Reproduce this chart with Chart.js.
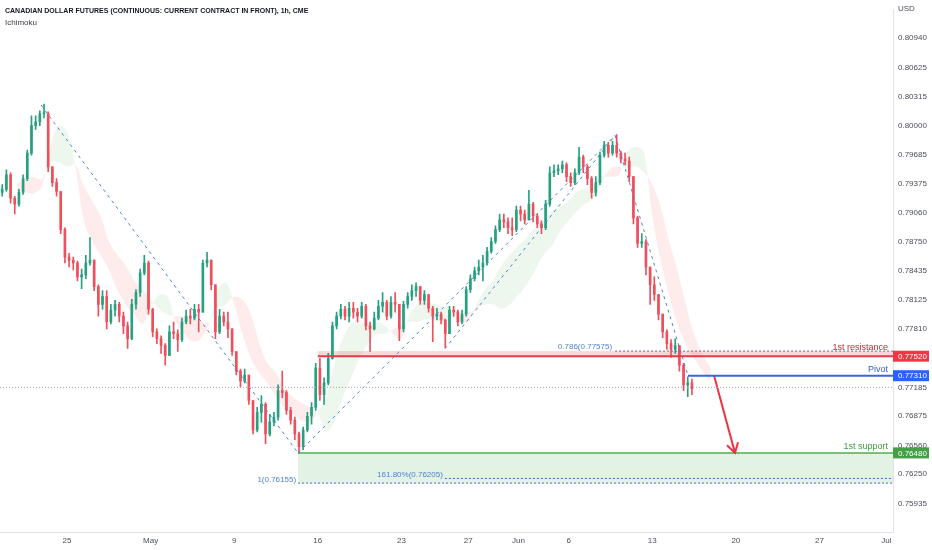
<!DOCTYPE html>
<html>
<head>
<meta charset="utf-8">
<style>
  html, body { margin: 0; padding: 0; background: #ffffff; }
  #wrap { width: 932px; height: 550px; }
</style>
<script src="https://cdn.jsdelivr.net/npm/chart.js@4.4.1/dist/chart.umd.min.js"></script>
</head>
<body>
<div id="wrap"><canvas id="chart" width="932" height="550"></canvas></div>
<script>
// time axis counts trading sessions from Mon 25 Apr (weekends removed, like the source chart)
const firstSession = -4;
const barsPerSession = 4;

const opens = [
  0.79282, 0.79314, 0.79472, 0.79219, 0.79155, 0.79282, 0.79430, 0.79704, 0.80000, 0.80042,
  0.80127, 0.80127, 0.79556, 0.79387, 0.79292, 0.78881, 0.78585, 0.78553, 0.78522, 0.78374,
  0.78395, 0.78522, 0.78553, 0.78268, 0.78078, 0.78162, 0.77888, 0.78015, 0.78078, 0.77951,
  0.77846, 0.77708, 0.78078, 0.78205, 0.78416, 0.78522, 0.78025, 0.77782, 0.77708, 0.77634,
  0.77529, 0.77782, 0.77761, 0.77698, 0.77888, 0.77951, 0.77930, 0.78025, 0.77994, 0.78522,
  0.78553, 0.78289, 0.77782, 0.77951, 0.77888, 0.77814, 0.77571, 0.77360, 0.77254, 0.77318,
  0.77043, 0.76726, 0.76916, 0.77001, 0.76684, 0.76811, 0.76864, 0.77149, 0.77128, 0.76938,
  0.76832, 0.76684, 0.76547, 0.76726, 0.76874, 0.76969, 0.77392, 0.77107, 0.77233, 0.77497,
  0.77846, 0.77951, 0.78025, 0.77951, 0.78036, 0.77994, 0.77951, 0.78057, 0.77846, 0.77814,
  0.77930, 0.78057, 0.78099, 0.77951, 0.78099, 0.78078, 0.77814, 0.78078, 0.78162, 0.78226,
  0.78268, 0.78120, 0.78184, 0.78036, 0.77951, 0.77972, 0.77909, 0.77761, 0.78015, 0.77994,
  0.77888, 0.77972, 0.78236, 0.78353, 0.78437, 0.78479, 0.78522, 0.78648, 0.78754, 0.78881,
  0.78986, 0.78965, 0.78902, 0.78881, 0.79092, 0.79050, 0.78986, 0.79155, 0.79028, 0.78944,
  0.78902, 0.79155, 0.79493, 0.79514, 0.79535, 0.79578, 0.79451, 0.79387, 0.79493, 0.79662,
  0.79556, 0.79430, 0.79282, 0.79387, 0.79683, 0.79789, 0.79704, 0.79789, 0.79704, 0.79641,
  0.79620, 0.79451, 0.79007, 0.78733, 0.78754, 0.78479, 0.78289, 0.78184, 0.77972, 0.77782,
  0.77656, 0.77592, 0.77634, 0.77423, 0.77212, 0.77233
];
const highs = [
  0.79367, 0.79525, 0.79493, 0.79240, 0.79314, 0.79472, 0.79736, 0.80106, 0.80106, 0.80158,
  0.80232, 0.80148, 0.79556, 0.79430, 0.79292, 0.78902, 0.78627, 0.78585, 0.78543, 0.78458,
  0.78606, 0.78796, 0.78553, 0.78289, 0.78226, 0.78226, 0.78078, 0.78120, 0.78099, 0.77994,
  0.77888, 0.78131, 0.78236, 0.78458, 0.78606, 0.78543, 0.78036, 0.77814, 0.77740, 0.77656,
  0.77846, 0.77888, 0.77803, 0.77930, 0.78015, 0.78025, 0.78078, 0.78078, 0.78553, 0.78638,
  0.78553, 0.78289, 0.78025, 0.77994, 0.77994, 0.77814, 0.77571, 0.77381, 0.77381, 0.77318,
  0.77043, 0.76969, 0.77096, 0.77022, 0.76895, 0.76916, 0.77212, 0.77360, 0.77149, 0.76969,
  0.76864, 0.76705, 0.76758, 0.76916, 0.77022, 0.77444, 0.77497, 0.77286, 0.77550, 0.77888,
  0.77994, 0.78078, 0.78057, 0.78099, 0.78099, 0.78036, 0.78099, 0.78078, 0.77888, 0.77994,
  0.78120, 0.78205, 0.78120, 0.78162, 0.78205, 0.78078, 0.78110, 0.78205, 0.78289, 0.78310,
  0.78268, 0.78226, 0.78184, 0.78057, 0.78036, 0.77994, 0.77920, 0.78057, 0.78057, 0.78015,
  0.78015, 0.78268, 0.78395, 0.78479, 0.78553, 0.78606, 0.78691, 0.78796, 0.78923, 0.79050,
  0.79050, 0.79007, 0.79007, 0.79134, 0.79134, 0.79092, 0.79303, 0.79176, 0.79050, 0.78976,
  0.79197, 0.79556, 0.79578, 0.79578, 0.79620, 0.79599, 0.79493, 0.79535, 0.79768, 0.79683,
  0.79578, 0.79451, 0.79451, 0.79715, 0.79831, 0.79820, 0.79831, 0.79905, 0.79725, 0.79704,
  0.79662, 0.79451, 0.79028, 0.78838, 0.78775, 0.78479, 0.78374, 0.78184, 0.77972, 0.77803,
  0.77698, 0.77708, 0.77634, 0.77444, 0.77297, 0.77275
];
const lows = [
  0.79240, 0.79292, 0.79166, 0.79050, 0.79134, 0.79261, 0.79409, 0.79683, 0.79958, 0.80000,
  0.80084, 0.79504, 0.79345, 0.79240, 0.78838, 0.78522, 0.78479, 0.78448, 0.78331, 0.78247,
  0.78353, 0.78500, 0.78226, 0.77951, 0.78025, 0.77814, 0.77867, 0.77951, 0.77888, 0.77761,
  0.77603, 0.77698, 0.78025, 0.78162, 0.78395, 0.77972, 0.77730, 0.77656, 0.77550, 0.77423,
  0.77529, 0.77708, 0.77571, 0.77677, 0.77867, 0.77867, 0.77909, 0.77782, 0.77994, 0.78479,
  0.78236, 0.77708, 0.77761, 0.77846, 0.77719, 0.77529, 0.77318, 0.77191, 0.77233, 0.77001,
  0.76684, 0.76705, 0.76811, 0.76579, 0.76663, 0.76769, 0.76832, 0.77075, 0.76895, 0.76790,
  0.76621, 0.76473, 0.76515, 0.76705, 0.76790, 0.76938, 0.77043, 0.77001, 0.77212, 0.77487,
  0.77814, 0.77920, 0.77909, 0.77888, 0.77930, 0.77888, 0.77930, 0.77803, 0.77571, 0.77803,
  0.77909, 0.77994, 0.77909, 0.77930, 0.77994, 0.77687, 0.77782, 0.78036, 0.78120, 0.78162,
  0.78078, 0.78078, 0.77994, 0.77677, 0.77909, 0.77867, 0.77613, 0.77761, 0.77951, 0.77846,
  0.77867, 0.77951, 0.78205, 0.78331, 0.78395, 0.78331, 0.78500, 0.78627, 0.78733, 0.78860,
  0.78902, 0.78838, 0.78817, 0.78860, 0.78976, 0.78944, 0.78986, 0.78965, 0.78902, 0.78838,
  0.78881, 0.79134, 0.79451, 0.79472, 0.79493, 0.79398, 0.79345, 0.79366, 0.79472, 0.79493,
  0.79366, 0.79219, 0.79240, 0.79366, 0.79662, 0.79662, 0.79683, 0.79662, 0.79599, 0.79578,
  0.79398, 0.78944, 0.78691, 0.78691, 0.78395, 0.78078, 0.78120, 0.77909, 0.77719, 0.77592,
  0.77508, 0.77550, 0.77360, 0.77149, 0.77085, 0.77107
];
const closes = [
  0.79314, 0.79472, 0.79219, 0.79155, 0.79282, 0.79430, 0.79704, 0.80000, 0.80042, 0.80127,
  0.80127, 0.79556, 0.79387, 0.79292, 0.78881, 0.78585, 0.78553, 0.78522, 0.78374, 0.78395,
  0.78522, 0.78553, 0.78268, 0.78078, 0.78162, 0.77888, 0.78015, 0.78078, 0.77951, 0.77846,
  0.77708, 0.78078, 0.78205, 0.78416, 0.78522, 0.78025, 0.77782, 0.77708, 0.77634, 0.77529,
  0.77782, 0.77761, 0.77698, 0.77888, 0.77951, 0.77930, 0.78025, 0.77994, 0.78522, 0.78553,
  0.78289, 0.77782, 0.77951, 0.77888, 0.77814, 0.77571, 0.77360, 0.77254, 0.77318, 0.77043,
  0.76726, 0.76916, 0.77001, 0.76684, 0.76811, 0.76864, 0.77149, 0.77128, 0.76938, 0.76832,
  0.76684, 0.76547, 0.76726, 0.76874, 0.76969, 0.77392, 0.77107, 0.77233, 0.77497, 0.77846,
  0.77951, 0.78025, 0.77951, 0.78036, 0.77994, 0.77951, 0.78057, 0.77846, 0.77814, 0.77930,
  0.78057, 0.78099, 0.77951, 0.78099, 0.78078, 0.77814, 0.78078, 0.78162, 0.78226, 0.78268,
  0.78120, 0.78184, 0.78036, 0.77951, 0.77972, 0.77909, 0.77761, 0.78015, 0.77994, 0.77888,
  0.77972, 0.78236, 0.78353, 0.78437, 0.78479, 0.78522, 0.78648, 0.78754, 0.78881, 0.78986,
  0.78965, 0.78902, 0.78881, 0.79092, 0.79050, 0.78986, 0.79155, 0.79028, 0.78944, 0.78902,
  0.79155, 0.79493, 0.79514, 0.79535, 0.79578, 0.79451, 0.79387, 0.79493, 0.79662, 0.79556,
  0.79430, 0.79282, 0.79387, 0.79683, 0.79789, 0.79704, 0.79789, 0.79704, 0.79641, 0.79620,
  0.79451, 0.79007, 0.78733, 0.78754, 0.78479, 0.78289, 0.78184, 0.77972, 0.77782, 0.77656,
  0.77592, 0.77634, 0.77423, 0.77212, 0.77233, 0.77170
];

// Ichimoku cloud, sampled every half session (already shifted forward)
const cloudStart = -3;
const cloudStep = 0.5;
const spanA = [
  0.7929, 0.7929, 0.7927, 0.7935, 0.7977, 0.8000, 0.7993, 0.7956, 0.7898, 0.7876,
  0.7861, 0.7845, 0.7824, 0.7808, 0.7797, 0.7787, 0.7803, 0.7818, 0.7816, 0.7789,
  0.7776, 0.7768, 0.7771, 0.7787, 0.7824, 0.7831, 0.7808, 0.7776, 0.7750, 0.7734,
  0.7723, 0.7708, 0.7697, 0.7690, 0.7683, 0.7681, 0.7692, 0.7708, 0.7744, 0.7771,
  0.7787, 0.7789, 0.7787, 0.7789, 0.7785, 0.7776, 0.7771, 0.7797, 0.7808, 0.7810,
  0.7808, 0.7805, 0.7799, 0.7789, 0.7789, 0.7808, 0.7824, 0.7834, 0.7850, 0.7861,
  0.7871, 0.7880, 0.7890, 0.7898, 0.7908, 0.7913, 0.7919, 0.7929, 0.7932, 0.7937,
  0.7945, 0.7945, 0.7947, 0.7972, 0.7977, 0.7972, 0.7903, 0.7855, 0.7818, 0.7787,
  0.7766, 0.7750, 0.7736, 0.7725
];
const spanB = [
  0.7937, 0.7943, 0.7945, 0.7943, 0.7961, 0.7961, 0.7956, 0.7958, 0.7935, 0.7919,
  0.7903, 0.7876, 0.7861, 0.7850, 0.7834, 0.7824, 0.7813, 0.7803, 0.7797, 0.7795,
  0.7795, 0.7792, 0.7789, 0.7789, 0.7803, 0.7808, 0.7816, 0.7813, 0.7797, 0.7766,
  0.7744, 0.7734, 0.7718, 0.7708, 0.7702, 0.7697, 0.7690, 0.7671, 0.7681, 0.7708,
  0.7729, 0.7750, 0.7766, 0.7776, 0.7776, 0.7781, 0.7785, 0.7789, 0.7789, 0.7792,
  0.7792, 0.7789, 0.7792, 0.7795, 0.7799, 0.7803, 0.7808, 0.7808, 0.7803, 0.7808,
  0.7818, 0.7829, 0.7845, 0.7861, 0.7871, 0.7887, 0.7898, 0.7908, 0.7916, 0.7922,
  0.7940, 0.7954, 0.7956, 0.7954, 0.7956, 0.7950, 0.7937, 0.7913, 0.7876, 0.7845,
  0.7808, 0.7776, 0.7755, 0.7739
];

const priceTicks = [0.80940, 0.80625, 0.80315, 0.80000, 0.79685, 0.79375, 0.79060, 0.78750,
  0.78435, 0.78125, 0.77810, 0.77185, 0.76875, 0.76560, 0.76250, 0.75935];
const dayTicks = [0, 5, 10, 15, 20, 24, 27, 30, 35, 40, 45, 49];
const dayLabels = ['25', 'May', '9', '16', '23', '27', 'Jun', '6', '13', '20', '27', 'Jul'];

// levels drawn on the chart
const resistance = 0.77520;
const fib786 = 0.77575;
const pivot = 0.77310;
const support = 0.76480;
const fibOne = 0.76155;
const fibExt = 0.76205;
const lastPrice = 0.77185;

// drawing anchors [session, price]
const swingHigh = [-1.55, 0.80222];
const swingLow = [13.82, 0.76480];
const retest = [22.6, 0.77600];
const swingTop = [32.78, 0.79894];
const pivotStart = 37.14;
const arrowFrom = [38.7, 0.77310];
const arrowTo = [39.95, 0.76480];

const timeMin = -4.007, timeMax = 49.40;
const priceMin = 0.75629, priceMax = 0.81246;

const upColor = '#26a17f';
const downColor = '#ef4f5c';
const fibBlue = '#4f7fd0';
const font = '"Liberation Sans", Arial, sans-serif';

const sessionOf = i => firstSession + (i + 0.5) / barsPerSession;
const barColors = closes.map((c, i) => (c >= opens[i] ? upColor : downColor));

function segment(label, a, b, color, width, dash) {
  return {
    type: 'line', label,
    data: [{ x: a[0], y: a[1] }, { x: b[0], y: b[1] }],
    borderColor: color, borderWidth: width, borderDash: dash || [],
    pointRadius: 0, fill: false, order: 0
  };
}
const level = (label, price, from, color, width, dash) =>
  segment(label, [from, price], [timeMax, price], color, width, dash);

const datasets = [
  {
    type: 'line', label: 'Senkou A',
    data: spanA.map((v, k) => ({ x: cloudStart + k * cloudStep, y: v })),
    borderWidth: 0, pointRadius: 0, tension: 0.35,
    fill: { target: '+1', above: 'rgba(76,175,80,0.10)', below: 'rgba(242,54,69,0.10)' },
    order: 20
  },
  {
    type: 'line', label: 'Senkou B',
    data: spanB.map((v, k) => ({ x: cloudStart + k * cloudStep, y: v })),
    borderWidth: 0, pointRadius: 0, tension: 0.35, fill: false, order: 21
  },
  {
    label: 'wick',
    data: highs.map((h, i) => ({ x: sessionOf(i), y: [lows[i], h] })),
    backgroundColor: barColors, barThickness: 1, grouped: false, order: 3
  },
  {
    label: 'body',
    data: opens.map((o, i) => ({ x: sessionOf(i), y: [o, closes[i]] })),
    backgroundColor: barColors, barThickness: 2, minBarLength: 1, grouped: false, order: 2
  },
  level('last', lastPrice, timeMin, '#a0a4ad', 1, [1, 2]),
  segment('fall', swingHigh, swingLow, fibBlue, 1, [3, 4]),
  segment('rise', swingLow, swingTop, fibBlue, 1, [3, 4]),
  segment('rise2', retest, swingTop, fibBlue, 1, [3, 4]),
  segment('drop', swingTop, [pivotStart, pivot], fibBlue, 1, [3, 4]),
  level('0.786', fib786, swingTop[0], '#5d6b8a', 1, [2, 2]),
  level('1', fibOne, swingLow[0], '#3c6fd0', 1, [2, 2]),
  level('161.8', fibExt, retest[0], '#3c6fd0', 1, [2, 2]),
  level('resistance', resistance, 15.0, '#e23b4a', 2),
  level('pivot', pivot, pivotStart, '#3a66d6', 2),
  level('support', support, swingLow[0], '#4caf50', 1.5),
  segment('arrow', arrowFrom, arrowTo, '#ee3344', 2)
];

const overlay = {
  id: 'overlay',
  beforeDatasetsDraw(chart) {
    const { ctx, chartArea: a, scales: { x, y } } = chart;
    ctx.save();
    ctx.fillStyle = 'rgba(242,54,69,0.20)';
    const x0 = x.getPixelForValue(15.0);
    ctx.fillRect(x0, y.getPixelForValue(fib786), a.right - x0, y.getPixelForValue(resistance) - y.getPixelForValue(fib786));
    ctx.fillStyle = 'rgba(76,175,80,0.16)';
    const x1 = x.getPixelForValue(swingLow[0]);
    ctx.fillRect(x1, y.getPixelForValue(support), a.right - x1, y.getPixelForValue(fibOne) - y.getPixelForValue(support));
    ctx.restore();
  },
  afterDatasetsDraw(chart) {
    const { ctx, chartArea: a, scales: { x, y } } = chart;
    ctx.save();
    // arrow head
    const ax = x.getPixelForValue(arrowFrom[0]), ay = y.getPixelForValue(arrowFrom[1]);
    const bx = x.getPixelForValue(arrowTo[0]), by = y.getPixelForValue(arrowTo[1]);
    const ang = Math.atan2(by - ay, bx - ax);
    ctx.strokeStyle = '#ee3344';
    ctx.lineWidth = 2;
    ctx.beginPath();
    ctx.moveTo(bx - 11 * Math.cos(ang - 0.55), by - 11 * Math.sin(ang - 0.55));
    ctx.lineTo(bx, by);
    ctx.lineTo(bx - 11 * Math.cos(ang + 0.55), by - 11 * Math.sin(ang + 0.55));
    ctx.stroke();

    ctx.font = '8px ' + font;
    ctx.textBaseline = 'alphabetic';
    ctx.textAlign = 'right';
    ctx.fillStyle = fibBlue;
    ctx.fillText('0.786(0.77575)', x.getPixelForValue(32.6), y.getPixelForValue(fib786) - 2);
    ctx.fillText('1(0.76155)', x.getPixelForValue(swingLow[0]) - 2, y.getPixelForValue(fibOne) - 1);
    ctx.fillText('161.80%(0.76205)', x.getPixelForValue(retest[0]) - 2, y.getPixelForValue(fibExt) - 1);

    ctx.font = '9px ' + font;
    ctx.fillStyle = '#c8283a';
    ctx.fillText('1st resistance', a.right - 5, y.getPixelForValue(fib786) - 1);
    ctx.fillStyle = '#2f5fd3';
    ctx.fillText('Pivot', a.right - 5, y.getPixelForValue(pivot) - 4);
    ctx.fillStyle = '#3f9a43';
    ctx.fillText('1st support', a.right - 5, y.getPixelForValue(support) - 4);
    ctx.restore();
  },
  afterDraw(chart) {
    const { ctx, chartArea: a, scales: { y } } = chart;
    ctx.save();
    const boxes = [[resistance, '#f23645'], [pivot, '#2962ff'], [support, '#43a047']];
    ctx.font = '8px ' + font;
    ctx.textBaseline = 'middle';
    ctx.textAlign = 'left';
    boxes.forEach(([v, c]) => {
      const py = y.getPixelForValue(v);
      ctx.fillStyle = c;
      ctx.fillRect(a.right, py - 5.5, 36, 11);
      ctx.fillStyle = '#ffffff';
      ctx.fillText(v.toFixed(5), a.right + 5, py + 0.5);
    });
    ctx.fillStyle = '#4a4e57';
    ctx.fillText('USD', a.right + 5, 9);

    ctx.fillStyle = '#131722';
    ctx.font = 'bold 7px ' + font;
    ctx.fillText('CANADIAN DOLLAR FUTURES (CONTINUOUS: CURRENT CONTRACT IN FRONT), 1h, CME', 5, 11);
    ctx.font = '8px ' + font;
    ctx.fillStyle = '#3a3e47';
    ctx.fillText('Ichimoku', 5, 23);
    ctx.restore();
  }
};

new Chart(document.getElementById('chart'), {
  type: 'bar',
  data: { datasets },
  options: {
    responsive: false,
    animation: false,
    devicePixelRatio: 1,
    layout: { padding: 0 },
    plugins: { legend: { display: false }, tooltip: { enabled: false } },
    scales: {
      x: {
        type: 'linear', min: timeMin, max: timeMax, offset: false,
        grid: { display: false, drawTicks: false },
        border: { color: '#e0e3eb' },
        afterFit: s => { s.height = 18; },
        afterBuildTicks: s => { s.ticks = dayTicks.map(v => ({ value: v })); },
        ticks: {
          autoSkip: false, maxRotation: 0, padding: 4,
          color: '#4a4e57', font: { family: font, size: 8 },
          callback: v => dayLabels[dayTicks.indexOf(v)]
        }
      },
      y: {
        type: 'linear', position: 'right', min: priceMin, max: priceMax,
        grid: { display: false, drawTicks: false },
        border: { color: '#e0e3eb' },
        afterFit: s => { s.width = 39; },
        afterBuildTicks: s => { s.ticks = priceTicks.map(v => ({ value: v })); },
        ticks: {
          padding: 5, color: '#4a4e57', font: { family: font, size: 8 },
          callback: v => v.toFixed(5)
        }
      }
    }
  },
  plugins: [overlay]
});
</script>
</body>
</html>
